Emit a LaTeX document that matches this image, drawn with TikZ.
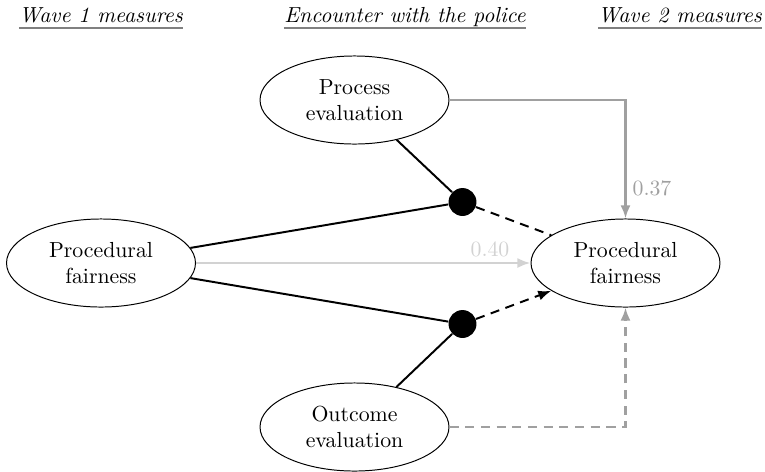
\documentclass[tikz,border=0pt]{standalone}
\usetikzlibrary{shapes.geometric,arrows.meta}
\definecolor{midgray}{HTML}{A0A0A0}
\definecolor{pale}{HTML}{D2D2D2}
\definecolor{rulegray}{HTML}{808080}
\begin{document}
\begin{tikzpicture}[x=0.4588pt,y=-0.4588pt,
  latent/.style={ellipse,draw,line width=0.45pt,minimum width=86.7pt,minimum height=40.4pt,inner sep=0pt,align=center},
  dotnode/.style={circle,fill=black,minimum size=12.8pt,inner sep=0pt},
  conn/.style={line width=0.9pt},
  gconn/.style={line width=1.1pt},
  dsh/.style={dash pattern=on 4.2pt off 3pt},
  tip/.style={-{Latex[length=6pt,width=4.6pt]}},
  header/.style={anchor=base,font=\itshape,inner sep=0pt},
  hrule/.style={rulegray,line width=1pt}]
\useasboundingbox (0,0) rectangle (765,471);

% headers
\node[header] (h1) at (101,22) {Wave 1 measures};
\node[header] (h2) at (405,22) {Encounter with the police};
\node[header] (h3) at (680,22) {Wave 2 measures};
\foreach \h in {h1,h2,h3}{
  \draw[hrule] ([yshift=-2.8pt]\h.base west) -- ([yshift=-2.8pt]\h.base east);
}

% nodes
\node[latent] (proc) at (354.5,100) {Process\\evaluation};
\node[latent] (lpf) at (101,263) {Procedural\\fairness};
\node[latent] (rpf) at (625.5,263) {Procedural\\fairness};
\node[latent] (out) at (354.5,427) {Outcome\\evaluation};
\node[dotnode] (d1) at (462.5,202) {};
\node[dotnode] (d2) at (462.5,324) {};

% direct paths
\draw[midgray,gconn,tip] (proc.east) -| (rpf.north);
\draw[pale,gconn,tip] (lpf.east) -- (rpf.west);
\draw[midgray,gconn,dsh,tip] (out.east) -| (rpf.south);

% interaction paths
\draw[conn] (proc) -- (d1);
\draw[conn] (lpf) -- (d1);
\draw[conn] (lpf) -- (d2);
\draw[conn] (out) -- (d2);
\draw[conn,dsh] (d1) -- (rpf);
\draw[conn,dsh,tip] (d2) -- (rpf);

% labels
\node[text=midgray] (l37) at (652,188) {0.37};
\node[text=pale] (l40) at (490,249) {0.40};
\end{tikzpicture}
\end{document}
